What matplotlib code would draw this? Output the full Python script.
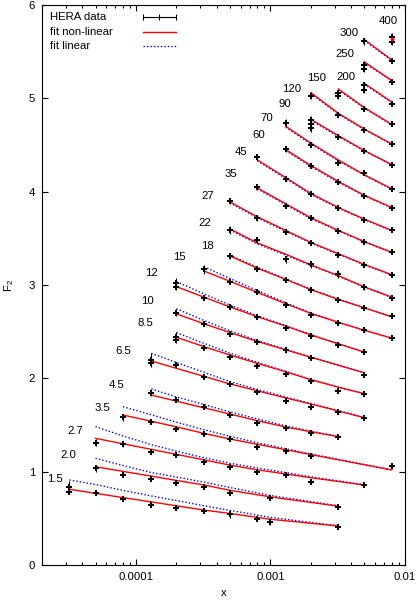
import matplotlib
matplotlib.use('Agg')
import matplotlib.pyplot as plt

plt.rcParams['font.family'] = ['Liberation Sans', 'DejaVu Sans']
plt.rcParams['mathtext.fontset'] = 'custom'
plt.rcParams['mathtext.rm'] = 'Liberation Sans'
plt.rcParams['mathtext.it'] = 'Liberation Sans'
plt.rcParams['font.size'] = 8.2

# Q^2 bins (GeV^2), one curve each
q2 = ['1.5', '2.0', '2.7', '3.5', '4.5', '6.5', '8.5', '10', '12', '15', '18', '22',
      '27', '35', '45', '60', '70', '90', '120', '150', '200', '250', '300', '400']

x_pts = [
    [3.2e-5, 5e-5, 8e-5, 1.3e-4, 2e-4, 3.2e-4, 5e-4, 8e-4, 1e-3, 3.2e-3],
    [5e-5, 8e-5, 1.3e-4, 2e-4, 3.2e-4, 5e-4, 1e-3, 3.2e-3],
    [5e-5, 8e-5, 1.3e-4, 2e-4, 3.2e-4, 5e-4, 8e-4, 1.3e-3, 2e-3, 5e-3],
    [8e-5, 1.3e-4, 2e-4, 3.2e-4, 5e-4, 8e-4, 1.3e-3, 2e-3, 8e-3],
    [1.3e-4, 2e-4, 3.2e-4, 5e-4, 8e-4, 1.3e-3, 2e-3, 3.2e-3],
    [1.3e-4, 2e-4, 3.2e-4, 5e-4, 8e-4, 1.3e-3, 2e-3, 3.2e-3, 5e-3],
    [2e-4, 3.2e-4, 5e-4, 8e-4, 1.3e-3, 2e-3, 3.2e-3, 5e-3],
    [2e-4, 3.2e-4, 5e-4, 8e-4, 1.3e-3, 2e-3, 5e-3],
    [2e-4, 3.2e-4, 5e-4, 8e-4, 1.3e-3, 2e-3, 3.2e-3, 5e-3],
    [3.2e-4, 5e-4, 8e-4, 1.3e-3, 2e-3, 3.2e-3, 5e-3, 8e-3],
    [5e-4, 8e-4, 1.3e-3, 2e-3, 3.2e-3, 5e-3, 8e-3],
    [5e-4, 8e-4, 1.3e-3, 2e-3, 3.2e-3, 5e-3, 8e-3],
    [5e-4, 8e-4, 1.3e-3, 2e-3, 3.2e-3, 5e-3, 8e-3],
    [8e-4, 1.3e-3, 2e-3, 3.2e-3, 5e-3, 8e-3],
    [8e-4, 1.3e-3, 2e-3, 3.2e-3, 5e-3, 8e-3],
    [1.3e-3, 2e-3, 3.2e-3, 5e-3, 8e-3],
    [1.3e-3, 2e-3, 3.2e-3, 5e-3, 8e-3],
    [2e-3, 3.2e-3, 5e-3, 8e-3],
    [2e-3, 3.2e-3, 5e-3, 8e-3],
    [3.2e-3, 5e-3, 8e-3],
    [5e-3, 8e-3],
    [5e-3, 8e-3],
    [5e-3, 8e-3],
    [8e-3],
]

# plotted F2 values (shifted per bin as in the figure)
f2 = [
    [0.78, 0.768, 0.707, 0.647, 0.614, 0.579, 0.546, 0.489, 0.464, 0.411],
    [1.036, 0.964, 0.921, 0.882, 0.832, 0.775, 0.714, 0.625],
    [1.311, 1.293, 1.207, 1.179, 1.107, 1.046, 0.996, 0.964, 0.886, 0.857],
    [1.582, 1.529, 1.457, 1.40, 1.35, 1.261, 1.225, 1.168, 1.061],
    [1.84, 1.768, 1.696, 1.607, 1.521, 1.464, 1.418, 1.375],
    [2.20, 2.143, 2.018, 1.939, 1.857, 1.761, 1.696, 1.643, 1.579],
    [2.446, 2.325, 2.229, 2.136, 2.046, 1.971, 1.864, 1.832],
    [2.703, 2.579, 2.479, 2.389, 2.304, 2.214, 2.036],
    [3.02, 2.864, 2.761, 2.654, 2.543, 2.454, 2.357, 2.286],
    [3.168, 3.036, 2.925, 2.786, 2.679, 2.59, 2.518, 2.436],
    [3.311, 3.175, 3.054, 2.946, 2.839, 2.75, 2.668],
    [3.59, 3.48, 3.275, 3.222, 3.118, 2.975, 2.857],
    [3.90, 3.72, 3.571, 3.454, 3.321, 3.214, 3.11],
    [4.05, 3.85, 3.715, 3.58, 3.457, 3.35],
    [4.37, 4.14, 3.975, 3.82, 3.70, 3.59],
    [4.46, 4.27, 4.10, 3.95, 3.83],
    [4.74, 4.50, 4.31, 4.20, 4.03],
    [4.77, 4.59, 4.44, 4.29],
    [5.03, 4.82, 4.66, 4.51],
    [5.06, 4.89, 4.72],
    [5.14, 4.94],
    [5.36, 5.17],
    [5.61, 5.40],
    [5.66],
]

f2_err = [
    [0.02, 0.015, 0.02, 0.015, 0.015, 0.015, 0.045, 0.015, 0.035, 0.012],
    [0.035, 0.02, 0.015, 0.015, 0.015, 0.02, 0.02, 0.015],
    [0.04, 0.03, 0.015, 0.015, 0.015, 0.02, 0.02, 0.015, 0.015, 0.015],
    [0.035, 0.015, 0.015, 0.015, 0.02, 0.015, 0.015, 0.015, 0.015],
    [0.03, 0.015, 0.015, 0.015, 0.015, 0.015, 0.015, 0.015],
    [0.07, 0.025, 0.015, 0.015, 0.015, 0.015, 0.015, 0.015, 0.015],
    [0.05, 0.015, 0.015, 0.015, 0.015, 0.015, 0.015, 0.015],
    [0.04, 0.015, 0.015, 0.015, 0.035, 0.015, 0.015],
    [0.05, 0.015, 0.015, 0.015, 0.015, 0.015, 0.015, 0.015],
    [0.045, 0.015, 0.015, 0.015, 0.015, 0.015, 0.015, 0.015],
    [0.03, 0.015, 0.015, 0.015, 0.015, 0.015, 0.015],
    [0.04, 0.03, 0.04, 0.04, 0.04, 0.03, 0.015],
    [0.03, 0.03, 0.015, 0.015, 0.015, 0.015, 0.015],
    [0.03, 0.015, 0.015, 0.015, 0.015, 0.015],
    [0.035, 0.015, 0.015, 0.015, 0.015, 0.015],
    [0.03, 0.015, 0.015, 0.015, 0.015],
    [0.04, 0.025, 0.015, 0.015, 0.015],
    [0.04, 0.03, 0.015, 0.015],
    [0.04, 0.025, 0.015, 0.015],
    [0.03, 0.015, 0.015],
    [0.03, 0.015],
    [0.03, 0.015],
    [0.04, 0.015],
    [0.04],
]

# second measurements at the same x
extra_x = [3.2e-5, 1.3e-4, 2e-4, 2e-4, 2e-3, 2e-3, 3.2e-3, 5e-3, 5e-3, 8e-3]
extra_f2 = [0.84, 2.16, 2.41, 2.98, 4.72, 4.68, 5.02, 5.09, 5.31, 5.60]
extra_err = [0.06, 0.04, 0.03, 0.03, 0.04, 0.04, 0.03, 0.03, 0.03, 0.03]

# fit curves read at the data x values
fit_nonlinear = [
    [0.811, 0.768, 0.722, 0.676, 0.634, 0.589, 0.552, 0.51, 0.49, 0.418],
    [1.053, 1.003, 0.952, 0.906, 0.857, 0.80, 0.73, 0.63],
    [1.357, 1.299, 1.239, 1.185, 1.127, 1.07, 1.02, 0.975, 0.935, 0.857],
    [1.607, 1.54, 1.48, 1.41, 1.35, 1.293, 1.235, 1.183, 1.018],
    [1.82, 1.755, 1.684, 1.617, 1.546, 1.478, 1.428, 1.375],
    [2.186, 2.107, 2.021, 1.94, 1.866, 1.79, 1.725, 1.65, 1.578],
    [2.44, 2.34, 2.25, 2.16, 2.07, 1.985, 1.905, 1.835],
    [2.69, 2.585, 2.49, 2.395, 2.305, 2.225, 2.06],
    [2.982, 2.87, 2.765, 2.66, 2.56, 2.465, 2.37, 2.28],
    [3.15, 3.04, 2.92, 2.80, 2.695, 2.60, 2.515, 2.43],
    [3.31, 3.18, 3.06, 2.95, 2.845, 2.755, 2.66],
    [3.60, 3.45, 3.33, 3.215, 3.10, 2.98, 2.87],
    [3.89, 3.73, 3.585, 3.455, 3.335, 3.22, 3.11],
    [4.04, 3.87, 3.72, 3.585, 3.465, 3.35],
    [4.34, 4.15, 3.98, 3.83, 3.705, 3.585],
    [4.45, 4.28, 4.11, 3.96, 3.83],
    [4.70, 4.52, 4.34, 4.18, 4.03],
    [4.775, 4.60, 4.44, 4.29],
    [5.06, 4.84, 4.67, 4.51],
    [5.10, 4.90, 4.72],
    [5.16, 4.96],
    [5.39, 5.19],
    [5.63, 5.41],
    [5.64],
]

fit_linear = [
    [0.911, 0.862, 0.80, 0.74, 0.69, 0.635, 0.585, 0.535, 0.51, 0.42],
    [1.143, 1.066, 0.99, 0.943, 0.888, 0.83, 0.745, 0.635],
    [1.482, 1.383, 1.29, 1.22, 1.15, 1.09, 1.04, 0.99, 0.945, 0.86],
    [1.696, 1.61, 1.53, 1.45, 1.38, 1.31, 1.245, 1.19, 1.02],
    [1.886, 1.80, 1.72, 1.64, 1.565, 1.49, 1.435, 1.378],
    [2.268, 2.17, 2.065, 1.965, 1.88, 1.80, 1.73, 1.655, 1.58],
    [2.49, 2.375, 2.27, 2.17, 2.075, 1.99, 1.905, 1.835],
    [2.746, 2.62, 2.51, 2.405, 2.31, 2.228, 2.06],
    [3.036, 2.905, 2.785, 2.67, 2.565, 2.468, 2.37, 2.28],
    [3.196, 3.07, 2.94, 2.81, 2.70, 2.60, 2.515, 2.43],
    [3.32, 3.19, 3.065, 2.955, 2.85, 2.755, 2.66],
    [3.59, 3.44, 3.32, 3.21, 3.095, 2.975, 2.865],
    [3.88, 3.72, 3.575, 3.45, 3.33, 3.215, 3.105],
    [4.03, 3.86, 3.71, 3.58, 3.46, 3.345],
    [4.33, 4.14, 3.97, 3.825, 3.70, 3.58],
    [4.44, 4.27, 4.10, 3.955, 3.825],
    [4.69, 4.51, 4.33, 4.175, 4.025],
    [4.765, 4.59, 4.435, 4.285],
    [5.05, 4.83, 4.665, 4.505],
    [5.09, 4.895, 4.715],
    [5.15, 4.955],
    [5.38, 5.185],
    [5.62, 5.405],
    [5.64],
]

# label offset from the first point of each bin, in pixels (right, up)
label_offsets = [(-14, 13), (-27, 13), (-20, 12), (-21, 9), (-35, 8), (-28, 9),
                 (-31, 14), (-29, 12), (-25, 10), (-24, 12), (-22, 10), (-25, 7),
                 (-22, 5), (-27, 13), (-16, 5), (-27, 14), (-19, 5), (-26, 16),
                 (-19, 7), (-22, 15), (-18, 8), (-20, 11), (-15, 8), (-4, 16)]

fig = plt.figure(figsize=(4.2, 6.01), dpi=100)
ax = fig.add_axes([0.1, 0.0599, 0.864, 0.9318])

px = 0.72  # points per pixel at 100 dpi
for i in range(len(q2)):
    xs = x_pts[i]
    if len(xs) > 1:
        ax.plot(xs, fit_linear[i], color='#0000ff', lw=1.0, ls=(0, (1, 1.5)), zorder=2)
        ax.plot(xs, fit_nonlinear[i], color='#ff0000', lw=1.0, zorder=3)
    else:
        ax.plot(xs, fit_nonlinear[i], 'o', color='#ff0000', ms=1.8, zorder=5)
    ax.errorbar(xs, f2[i], yerr=f2_err[i], fmt='P', color='black', ms=4.6,
                mew=0, elinewidth=0.8, capsize=2.2, capthick=0.8, zorder=4)
    dx, dy = label_offsets[i]
    ax.annotate(q2[i], (xs[0], f2[i][0]), xytext=(dx * px, dy * px),
                textcoords='offset points', ha='center', va='center', fontsize=8.2)

ax.errorbar(extra_x, extra_f2, yerr=extra_err, fmt='P', color='black', ms=4.6,
            mew=0, elinewidth=0.8, capsize=2.2, capthick=0.8, zorder=4)

ax.set_xscale('log')
ax.set_xlim(2e-5, 1e-2)
ax.set_ylim(0, 6)
ax.set_xticks([1e-4, 1e-3, 1e-2], ['0.0001', '0.001', '0.01'])
ax.set_xticks([k * 10.0 ** e for e in (-5, -4, -3) for k in range(2, 10)], minor=True)
ax.set_xticklabels([], minor=True)
ax.set_yticks(range(7))
ax.tick_params(which='both', direction='in', top=True, right=True, width=0.8)
ax.tick_params(which='major', length=4.3, pad=5)
ax.tick_params(which='minor', length=2.2)
ax.set_xlabel('x', labelpad=4)
ax.set_ylabel('F$_2$', labelpad=9)
for s in ax.spines.values():
    s.set_linewidth(0.8)

# key (gnuplot style: text left, sample right)
rows = [0.979, 0.952, 0.927]
texts = ['HERA data', 'fit non-linear', 'fit linear']
for yy, t in zip(rows, texts):
    ax.text(0.022, yy, t, transform=ax.transAxes, ha='left', va='center', fontsize=8.2)
ax.plot([0.277, 0.369], [rows[0], rows[0]], color='black', lw=0.8, transform=ax.transAxes)
ax.plot([0.277, 0.323, 0.369], [rows[0]] * 3, ls='none', marker='|', ms=4.5, mew=0.8,
        color='black', transform=ax.transAxes)
ax.plot([0.277, 0.369], [rows[1], rows[1]], color='#ff0000', lw=1.0, transform=ax.transAxes)
ax.plot([0.277, 0.369], [rows[2], rows[2]], color='#0000ff', lw=1.0, ls=(0, (1, 1.5)),
        transform=ax.transAxes)

fig.savefig('out.png', dpi=100)
